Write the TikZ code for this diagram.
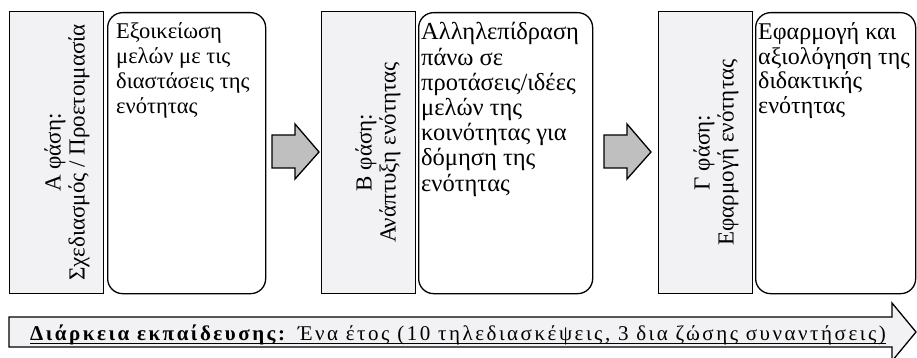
\documentclass[tikz,border=0pt]{standalone}
\usepackage{fontspec}
\setmainfont{Liberation Serif}
\newfontfamily\spacedfont[LetterSpace=12]{Liberation Serif}
\usetikzlibrary{calc}
\definecolor{phasegrey}{HTML}{F2F2F4}
\definecolor{arrowgrey}{HTML}{BFBFBF}
\newcommand\desclines[3]{\parbox[t]{#1}{\raggedright\fontsize{#2}{#3}\selectfont\ignorespaces}}
\begin{document}
\begin{tikzpicture}[x=1pt,y=-1pt,
  phasebox/.style={draw=black, line width=1pt, fill=phasegrey, minimum width=94pt, minimum height=281pt, inner sep=0pt},
  phasetext/.style={rotate=90, align=center, font=\fontsize{23}{24}\selectfont, inner sep=0pt},
  descbox/.style={draw=black, line width=1.3pt, rounded corners=15pt, minimum height=281pt, inner sep=0pt, anchor=north west},
  desctext/.style={anchor=base west, inner sep=0pt},
  blockarrow/.style={draw=black, line width=1.3pt, fill=arrowgrey, line join=miter},
  timearrow/.style={draw=black, line width=1.3pt, fill=phasegrey, line join=miter}
]
\useasboundingbox (0,0) rectangle (917,358);

% Phase A
\node[phasebox] (gA) at (56,152.5) {};
\node[phasetext] (tA) at (67,152.5) {Α φάση:\\Σχεδιασμός / Προετοιμασία};
\node[descbox, minimum width=158pt] (rA) at (107,12) {};
\node[desctext] (dA) at (116,39) {\parbox[t]{148pt}{\raggedright\fontsize{22.5}{24.7}\selectfont Εξοικείωση\\μελών με τις\\διαστάσεις της\\ενότητας}};

% Arrow 1
\draw[blockarrow] (272,135) -- (295,135) -- (295,124) -- (319,152) -- (295,179) -- (295,168) -- (272,168) -- cycle;

% Phase B
\node[phasebox] (gB) at (368.5,152.5) {};
\node[phasetext] (tB) at (378,152.5) {Β φάση:\\Ανάπτυξη ενότητας};
\node[descbox, minimum width=174pt] (rB) at (418,12) {};
\node[desctext] (dB) at (421,40) {\parbox[t]{170pt}{\raggedright\fontsize{24.5}{25.2}\selectfont Αλληλεπίδραση\\πάνω σε\\προτάσεις/ιδέες\\μελών της\\κοινότητας για\\δόμηση της\\ενότητας}};

% Arrow 2
\draw[blockarrow] (604,135) -- (627,135) -- (627,124) -- (651,152) -- (627,179) -- (627,168) -- (604,168) -- cycle;

% Phase C
\node[phasebox] (gC) at (705,152.5) {};
\node[phasetext] (tC) at (716,152.5) {Γ φάση:\\Εφαρμογή ενότητας};
\node[descbox, minimum width=160pt] (rC) at (755,12) {};
\node[desctext] (dC) at (758,40) {\parbox[t]{156pt}{\raggedright\fontsize{24}{24.5}\selectfont Εφαρμογή και\\αξιολόγηση της\\διδακτικής\\ενότητας}};

% Time arrow
\draw[timearrow] (9,317) -- (892,317) -- (892,303) -- (916,332) -- (892,361) -- (892,347) -- (9,347) -- cycle;
\node[anchor=base west, inner sep=0pt, font=\spacedfont\fontsize{21}{24}\selectfont] (tt) at (30,340)
  {\textbf{Διάρκεια εκπαίδευσης:} Ένα έτος (10 τηλεδιασκέψεις, 3 δια ζώσης συναντήσεις)};
\draw[line width=0.9pt] ([yshift=-3pt]tt.base west) -- ([yshift=-3pt]tt.base east);
\end{tikzpicture}
\end{document}
